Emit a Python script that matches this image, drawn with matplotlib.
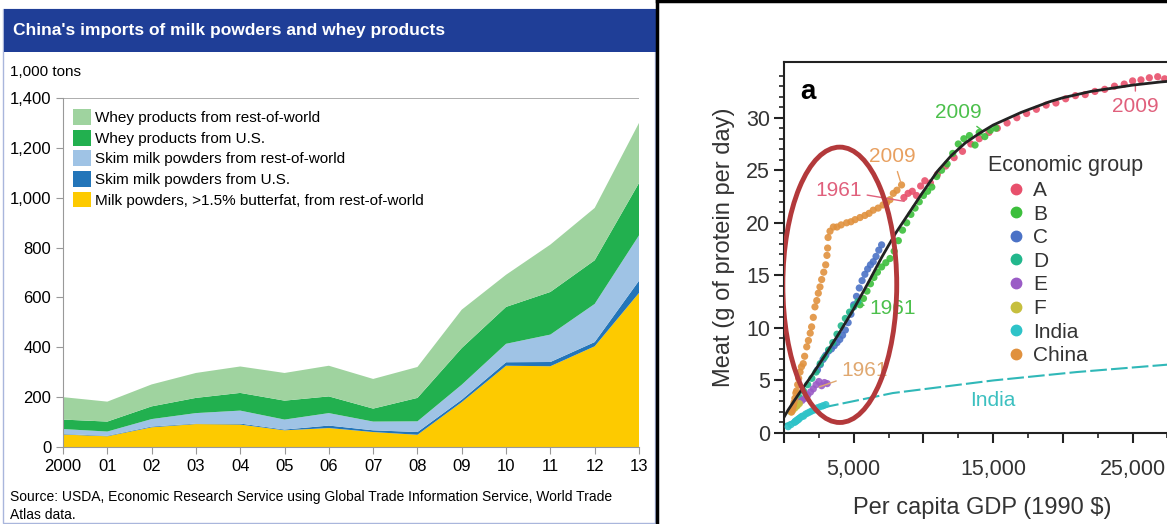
import numpy as np
import matplotlib
matplotlib.use("Agg")
import matplotlib.pyplot as plt
from matplotlib.patches import Rectangle, Ellipse, Patch
from matplotlib.lines import Line2D

plt.rcParams['font.family'] = ['Liberation Sans', 'DejaVu Sans']

W, H = 1167, 524

# ---- left panel data (1,000 tons) ----
years = list(range(2000, 2014))
year_labels = ['2000', '01', '02', '03', '04', '05', '06', '07', '08', '09', '10', '11', '12', '13']
milk_fat_row = [50, 43, 79, 92, 90, 67, 76, 60, 49, 180, 326, 324, 404, 618]
skim_us = [2, 2, 3, 2, 4, 3, 10, 7, 11, 10, 14, 17, 17, 49]
skim_row = [20, 17, 30, 42, 52, 40, 50, 35, 43, 60, 74, 110, 153, 182]
whey_us = [38, 40, 51, 61, 71, 76, 67, 52, 94, 147, 148, 171, 175, 210]
whey_row = [90, 80, 88, 100, 106, 111, 123, 119, 124, 154, 129, 190, 210, 241]
series_labels = [
    "Milk powders, >1.5% butterfat, from rest-of-world",
    "Skim milk powders from U.S.",
    "Skim milk powders from rest-of-world",
    "Whey products from U.S.",
    "Whey products from rest-of-world",
]
series_colors = ['#fdca00', '#2375b9', '#9fc3e5', '#22b04f', '#9fd39f']

# ---- right panel data (per capita GDP, g meat protein per day) ----
a_gdp = [8600, 8900, 9200, 9500, 9800, 10100, 10500, 11000, 11600, 12200, 12800, 13400, 14000,
         14700, 15300, 16000, 16700, 17400, 18100, 18800, 19500, 20200, 20900, 21600, 22300,
         23000, 23700, 24400, 25000, 25600, 26200, 26800, 27300]
a_meat = [22.4, 22.8, 23.0, 22.6, 23.5, 24.0, 23.8, 24.6, 25.4, 26.2, 26.8, 27.5, 28.0,
          28.6, 29.0, 29.5, 30.0, 30.4, 30.8, 31.2, 31.4, 31.8, 32.1, 32.2, 32.5,
          32.7, 33.0, 33.2, 33.5, 33.6, 33.8, 33.9, 33.7]
b_gdp = [5450, 5700, 5950, 6200, 6450, 6700, 7000, 7300, 7600, 7900, 8200, 8500, 8800, 9100,
         9400, 9700, 10000, 10300, 10600, 10950, 11300, 11700, 12100, 12500, 12900, 13300,
         13700, 14000, 14400, 14800, 15200]
b_meat = [12.2, 12.8, 13.5, 14.2, 14.8, 15.3, 15.8, 16.2, 16.6, 17.3, 18.3, 19.3, 20.0, 20.8,
          21.4, 22.0, 22.6, 23.0, 23.4, 24.4, 25.0, 25.6, 26.6, 27.5, 28.0, 28.3,
          27.4, 28.6, 28.2, 28.8, 29.0]
c_gdp = [2400, 2600, 2800, 3000, 3200, 3400, 3600, 3800, 4000, 4200, 4400, 4600, 4800, 5000,
         5200, 5400, 5600, 5800, 6000, 6200, 6400, 6600, 6800, 7000]
c_meat = [6.0, 6.5, 7.0, 7.4, 7.8, 8.0, 8.3, 8.6, 8.9, 9.3, 9.8, 10.5, 11.3, 12.2,
          13.0, 13.8, 14.5, 15.1, 15.6, 16.0, 16.3, 16.8, 17.4, 17.9]
d_gdp = [1100, 1400, 1700, 2000, 2300, 2600, 2900, 3200, 3500, 3800, 4100, 4400, 4700, 5000, 5300]
d_meat = [3.4, 4.0, 4.6, 5.2, 5.8, 6.6, 7.2, 7.9, 8.6, 9.4, 10.2, 10.9, 11.5, 12.0, 12.5]
e_gdp = [900, 1100, 1300, 1500, 1700, 1900, 2100, 2300, 2500, 2700, 2900, 3100]
e_meat = [2.6, 2.9, 3.1, 3.3, 3.6, 3.9, 4.2, 4.6, 4.9, 4.5, 4.8, 4.7]
f_gdp = [500, 650, 800, 950, 1100]
f_meat = [2.0, 2.2, 2.4, 2.6, 2.8]
india_gdp = [300, 500, 750, 800, 850, 900, 950, 1000, 1050, 1100, 1200, 1300, 1400, 1550,
             1700, 1850, 2000, 2200, 2400, 2600, 2800, 3000]
india_meat = [0.6, 0.8, 1.0, 1.1, 1.1, 1.2, 1.2, 1.3, 1.3, 1.4, 1.5, 1.6, 1.6, 1.8,
              1.9, 2.0, 2.1, 2.2, 2.4, 2.5, 2.6, 2.7]
china_gdp = [550, 620, 680, 720, 780, 850, 900, 980, 1050, 1150, 1250, 1380, 1480, 1630, 1750,
             1880, 1980, 2100, 2220, 2350, 2460, 2580, 2700, 2850, 2990, 3080, 3130, 3160, 3300,
             3540, 3800, 4100, 4490, 4800, 5100, 5450, 5800, 6100, 6400, 6750, 7100, 7360,
             7600, 7840, 8100, 8430]
china_meat = [2.0, 2.3, 2.6, 2.9, 3.3, 3.8, 4.0, 4.6, 5.2, 5.8, 6.3, 6.6, 7.3, 8.2, 8.8,
              9.5, 10.1, 11.0, 12.0, 12.6, 13.3, 13.9, 14.6, 15.3, 16.0, 16.9, 17.6, 18.6, 19.2,
              19.6, 19.6, 19.8, 20.0, 20.1, 20.3, 20.5, 20.7, 20.9, 21.2, 21.4, 21.7, 21.9,
              22.2, 22.8, 23.1, 23.6]
fit_gdp = [0, 300, 1000, 2000, 3000, 4000, 5000, 6000, 7000, 8000, 9000, 10000, 11000, 12000,
           13000, 14000, 15000, 16000, 17000, 18000, 19000, 20000, 21000, 22000, 23000, 24000,
           25000, 26000, 27000, 28400]
fit_meat = [1.5, 2.2, 3.6, 5.5, 7.5, 9.6, 11.8, 14.2, 16.7, 19.0, 21.0, 23.0, 24.9, 26.4,
            27.6, 28.5, 29.3, 29.9, 30.5, 31.0, 31.5, 31.9, 32.2, 32.5, 32.7, 32.9,
            33.1, 33.25, 33.4, 33.55]
india_fit_gdp = [0, 300, 3060, 7800, 15000, 21000, 28400]
india_fit_meat = [0.8, 0.95, 2.5, 3.8, 5.0, 5.8, 6.6]

groups = [
    ('A', a_gdp, a_meat, '#e8506c'),
    ('B', b_gdp, b_meat, '#3cbf3c'),
    ('C', c_gdp, c_meat, '#4b72c6'),
    ('D', d_gdp, d_meat, '#22b78c'),
    ('E', e_gdp, e_meat, '#9a5cc6'),
    ('F', f_gdp, f_meat, '#c6bf3e'),
    ('India', india_gdp, india_meat, '#2ec3c8'),
    ('China', china_gdp, china_meat, '#e0913e'),
]


def fx(px):
    return px / W


def fy(py):
    return 1 - py / H


fig = plt.figure(figsize=(W / 100, H / 100), dpi=100)

# ---------- left panel ----------
fig.patches.append(Rectangle((fx(3), fy(523)), fx(652), 514 / H, transform=fig.transFigure,
                             facecolor='none', edgecolor='#a9b6dc', lw=1))
fig.patches.append(Rectangle((fx(4), fy(52)), fx(652), 43 / H, transform=fig.transFigure,
                             facecolor='#1f3e97', edgecolor='none'))
fig.text(fx(13), fy(31), "China's imports of milk powders and whey products",
         color='white', fontsize=12.5, fontweight='bold', va='center')
fig.text(fx(10), fy(72), "1,000 tons", fontsize=11, va='center')
fig.text(fx(10), fy(497), "Source: USDA, Economic Research Service using Global Trade "
         "Information Service, World Trade", fontsize=10, va='center')
fig.text(fx(10), fy(515), "Atlas data.", fontsize=10, va='center')

ax = fig.add_axes([fx(63), fy(447), fx(639 - 63), (447 - 98) / H])
ax.stackplot(years, milk_fat_row, skim_us, skim_row, whey_us, whey_row,
             colors=series_colors, lw=0)
ax.set_xlim(2000, 2013)
ax.set_ylim(0, 1400)
ax.axhline(1400, color='#a0a0a0', lw=1.2)
ax.set_yticks(range(0, 1401, 200))
ax.set_yticklabels([f"{v:,}" for v in range(0, 1401, 200)])
ax.set_xticks(years)
ax.set_xticklabels(year_labels)
for s in ['top', 'right']:
    ax.spines[s].set_visible(False)
for s in ['left', 'bottom']:
    ax.spines[s].set_color('#999999')
ax.tick_params(colors='#999999', labelcolor='black', labelsize=12, length=5)
handles = [Patch(facecolor=c, edgecolor='none') for c in series_colors][::-1]
ax.legend(handles, series_labels[::-1], loc='upper left', bbox_to_anchor=(0.006, 0.985),
          frameon=False, fontsize=11, handlelength=1.2, handleheight=1.2,
          handletextpad=0.3, labelspacing=0.3, borderaxespad=0)

# separator / frame of right panel
fig.lines.append(Line2D([fx(657), fx(657)], [0, 1], transform=fig.transFigure,
                        color='black', lw=2.5))
fig.lines.append(Line2D([fx(657), 1], [fy(1), fy(1)], transform=fig.transFigure,
                        color='black', lw=2.5))

# ---------- right panel ----------
ax2 = fig.add_axes([fx(784), fy(433), fx(1180 - 784), (433 - 62) / H])
ax2.set_xlim(0, 28400)
ax2.set_ylim(0, 35.3)
for name, gx, gy, col in groups:
    ax2.scatter(gx, gy, s=27, color=col, edgecolors='none', alpha=0.9, zorder=3)
ax2.plot(fit_gdp, fit_meat, color='#222222', lw=2, zorder=4)
ax2.plot(india_fit_gdp, india_fit_meat, color='#30b8b8', lw=1.5, ls=(0, (8, 2)), zorder=2)

ax2.add_patch(Ellipse((4000, 14.1), 8170, 26.2, fill=False, edgecolor='#b3393b', lw=3.5,
                      zorder=5))

ax2.set_xticks(range(0, 28001, 5000))
ax2.set_xticklabels(['', '5,000', '', '15,000', '', '25,000'])
ax2.set_xticks(range(2500, 28001, 5000), minor=True)
ax2.set_yticks(range(0, 31, 5))
ax2.set_yticks(range(0, 35), minor=True)
ax2.tick_params(which='major', length=7, width=1.5, labelsize=15.5, color='#222222',
                labelcolor='#333333')
ax2.tick_params(axis='x', which='major', pad=12)
ax2.tick_params(axis='y', which='major', pad=3)
ax2.tick_params(which='minor', length=3.5, width=1.2, color='#222222')
for s in ax2.spines.values():
    s.set_linewidth(1.5)
    s.set_color('#222222')
ax2.set_xlabel("Per capita GDP (1990 $)", fontsize=17, color='#333333', labelpad=12)
ax2.set_ylabel("Meat (g of protein per day)", fontsize=17, color='#333333', labelpad=8)
ax2.text(0.04, 0.92, 'a', transform=ax2.transAxes, fontsize=20, fontweight='bold',
         va='center')

line_kw = dict(arrowstyle='-', lw=1)
ax2.annotate('1961', xy=(8817, 22.0), xytext=(3900, 23.1), color='#e0607c', fontsize=15,
             ha='center', va='center', arrowprops=dict(color='#e0607c', **line_kw))
ax2.annotate('2009', xy=(8430, 23.6), xytext=(7800, 26.3), color='#e8a060', fontsize=15,
             ha='center', va='center', arrowprops=dict(color='#e8a060', **line_kw))
ax2.annotate('2009', xy=(14400, 28.6), xytext=(12500, 30.5), color='#4cc04c', fontsize=15,
             ha='center', va='center', arrowprops=dict(color='#4cc04c', **line_kw))
ax2.annotate('2009', xy=(25200, 33.3), xytext=(25200, 31.1), color='#e0607c', fontsize=15,
             ha='center', va='center', arrowprops=dict(color='#e0607c', **line_kw))
ax2.annotate('1961', xy=(5450, 12.2), xytext=(7800, 11.8), color='#4cc04c', fontsize=15,
             ha='center', va='center', arrowprops=dict(color='#4cc04c', **line_kw))
ax2.annotate('1961', xy=(2340, 4.3), xytext=(5800, 5.9), color='#e0a870', fontsize=15,
             ha='center', va='center', arrowprops=dict(color='#e0a870', **line_kw))
ax2.text(15000, 3.1, 'India', color='#3cc0c0', fontsize=15, ha='center', va='center')

ax2.text(0.515, 0.72, 'Economic group', transform=ax2.transAxes, fontsize=15.5,
         color='#333333', va='center')
leg_handles = [Line2D([], [], marker='o', ls='none', color=c, markersize=7.5)
               for _, _, _, c in groups]
ax2.legend(leg_handles, [g[0] for g in groups], loc='upper left',
           bbox_to_anchor=(fx(1010), fy(181)), bbox_transform=fig.transFigure,
           frameon=False, fontsize=15, handlelength=0.55, handletextpad=0.55,
           labelspacing=0.22, borderpad=0, borderaxespad=0, labelcolor='#333333')

fig.savefig('out.png', dpi=100)
